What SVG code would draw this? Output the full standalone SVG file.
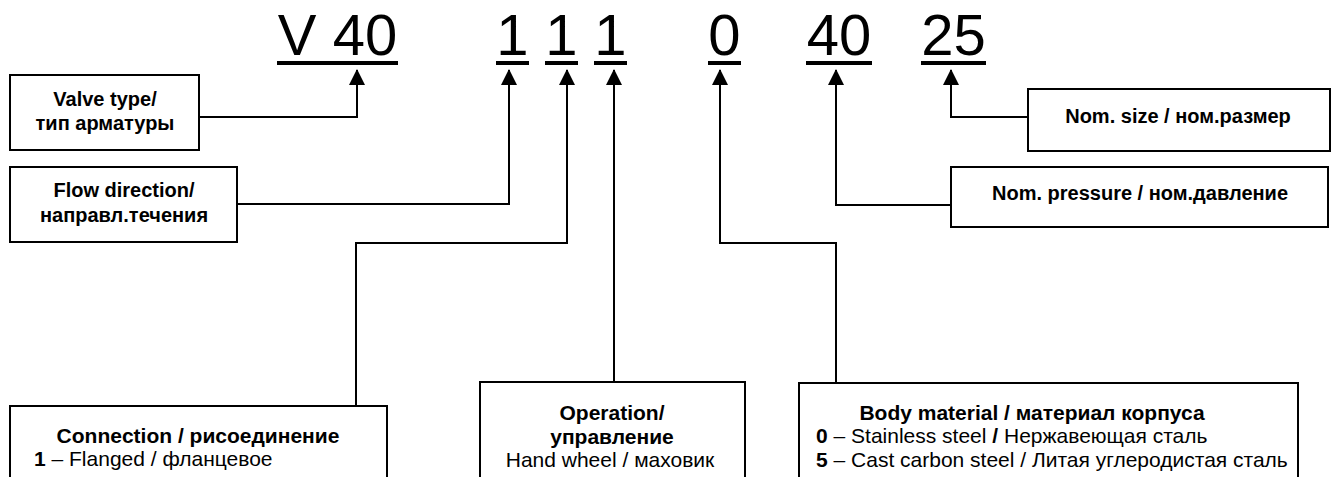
<svg xmlns="http://www.w3.org/2000/svg" width="1336" height="477" viewBox="0 0 1336 477">
<defs>
<marker id="arr" markerUnits="userSpaceOnUse" markerWidth="16" markerHeight="16" viewBox="0 0 16 16" refX="15" refY="8" orient="auto">
<path d="M0,0 L16,8 L0,16 Z" fill="#000"/>
</marker>
<style>
.code{font-family:"Liberation Sans",Arial,sans-serif;font-size:58px;fill:#000;text-anchor:middle}
.ul{stroke:#000;stroke-width:4}
.box{fill:#fff;stroke:#000;stroke-width:2}
.b{font-family:"Liberation Sans",Arial,sans-serif;font-size:20px;font-weight:bold;fill:#000}
.r{font-family:"Liberation Sans",Arial,sans-serif;font-size:20px;fill:#000}
.lg{font-size:21px}
.c{text-anchor:middle}
.con{fill:none;stroke:#000;stroke-width:2}
</style>
</defs>
<rect width="1336" height="477" fill="#fff"/>
<g id="codes">
<text class="code" x="337.5" y="55">V 40</text>
<line class="ul" x1="277" y1="63" x2="398" y2="63"/>
<text class="code" x="512.5" y="55">1</text>
<line class="ul" x1="496" y1="63" x2="529" y2="63"/>
<text class="code" x="561.5" y="55">1</text>
<line class="ul" x1="545" y1="63" x2="578" y2="63"/>
<text class="code" x="610.5" y="55">1</text>
<line class="ul" x1="594" y1="63" x2="627" y2="63"/>
<text class="code" x="724.5" y="55">0</text>
<line class="ul" x1="708" y1="63" x2="741" y2="63"/>
<text class="code" x="839" y="55">40</text>
<line class="ul" x1="806" y1="63" x2="872" y2="63"/>
<text class="code" x="953.5" y="55">25</text>
<line class="ul" x1="921" y1="63" x2="986" y2="63"/>
</g>
<g id="connectors">
<path class="con" d="M199,117 H357 V70" marker-end="url(#arr)"/>
<path class="con" d="M237,204 H509 V70" marker-end="url(#arr)"/>
<path class="con" d="M356,406 V243 H567 V70" marker-end="url(#arr)"/>
<path class="con" d="M614,382 V70" marker-end="url(#arr)"/>
<path class="con" d="M836,383 V243 H720 V70" marker-end="url(#arr)"/>
<path class="con" d="M951,205 H836 V70" marker-end="url(#arr)"/>
<path class="con" d="M1028,117 H951 V70" marker-end="url(#arr)"/>
</g>
<g id="valve-type">
<rect class="box" x="10" y="75" width="189" height="75"/>
<text class="b c" x="105" y="106">Valve type/</text>
<text class="b c" x="105" y="130">тип арматуры</text>
</g>
<g id="flow-direction">
<rect class="box" x="10" y="167" width="227" height="75"/>
<text class="b c" x="124" y="197">Flow direction/</text>
<text class="b c" x="124" y="222">направл.течения</text>
</g>
<g id="nom-size">
<rect class="box" x="1028" y="89" width="302" height="62"/>
<text class="b c" x="1178" y="123">Nom. size / ном.размер</text>
</g>
<g id="nom-pressure">
<rect class="box" x="951" y="167" width="377" height="60"/>
<text class="b c" x="1140" y="200">Nom. pressure / ном.давление</text>
</g>
<g id="connection">
<rect class="box" x="10" y="406" width="377" height="80"/>
<text class="b c lg" x="198" y="443">Connection / рисоединение</text>
<text class="r lg" x="34" y="466"><tspan font-weight="bold">1</tspan> – Flanged / фланцевое</text>
</g>
<g id="operation">
<rect class="box" x="480" y="382" width="265" height="104"/>
<text class="b c lg" x="612" y="420">Operation/</text>
<text class="b c lg" x="612" y="444">управление</text>
<text class="r c lg" x="610" y="467">Hand wheel / маховик</text>
</g>
<g id="body-material">
<rect class="box" x="799" y="383" width="499" height="103"/>
<text class="b c lg" x="1032" y="420">Body material / материал корпуса</text>
<text class="r lg" x="816" y="443"><tspan font-weight="bold">0</tspan> – Stainless steel <tspan font-weight="bold">/</tspan> Нержавеющая сталь</text>
<text class="r lg" x="816" y="467"><tspan font-weight="bold">5</tspan> – Cast carbon steel / Литая углеродистая сталь</text>
</g>
</svg>
